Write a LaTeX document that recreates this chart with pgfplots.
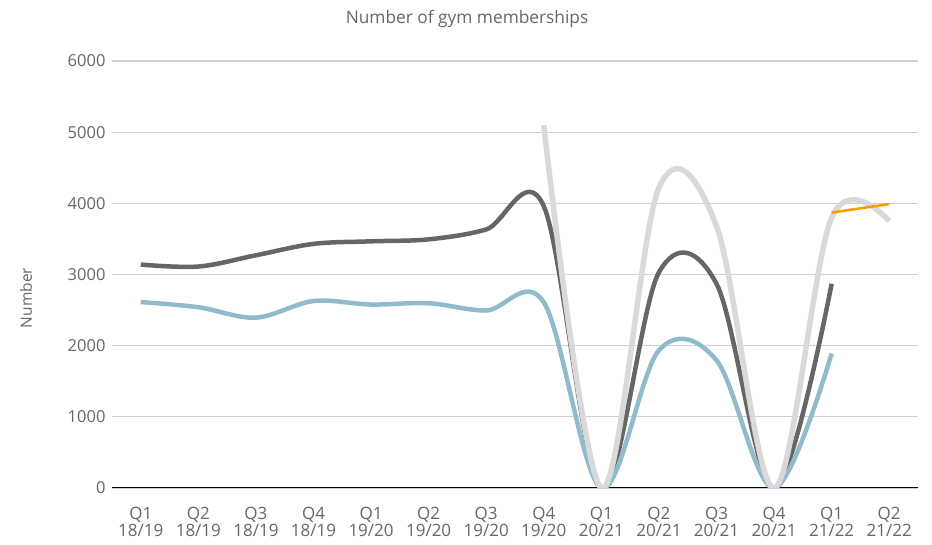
\documentclass[border=0pt]{standalone}
\usepackage{fontspec}
\setmainfont{Open Sans}
\usepackage{pgfplots}
\pgfplotsset{compat=1.18}

\definecolor{seriesdark}{HTML}{666666}
\definecolor{seriesblue}{HTML}{8FBBCC}
\definecolor{serieslight}{HTML}{D9D9D9}
\definecolor{seriesorange}{HTML}{FF9900}
\definecolor{gridgray}{HTML}{D0D0D0}
\definecolor{labelgray}{HTML}{666666}
\definecolor{baseline}{HTML}{333333}

% quarterly values, quarters numbered 0 (Q1 18/19) to 13 (Q2 21/22)
\pgfplotstableread{
x y
0 3140
1 3112
2 3270
3 3430
4 3466
5 3494
6 3633
7 3960
8 0
9 3030
10 2870
11 0
12 2870
}\darkseries

\pgfplotstableread{
x y
0 2613
1 2540
2 2394
3 2627
4 2578
5 2596
6 2494
7 2610
8 0
9 1935
10 1795
11 0
12 1890
}\blueseries

\pgfplotstableread{
x y
7 5100
8 0
9 4220
10 3680
11 0
12 3800
13 3750
}\lightseries

\pgfplotstableread{
x y
12 3870
13 3990
}\orangeseries

\begin{document}
\begin{tikzpicture}
\begin{axis}[
  at={(0,0)}, anchor=south west,
  width=806pt, height=427pt, scale only axis,
  xmin=-0.5, xmax=13.5, ymin=0, ymax=6000,
  xtick={0,...,13},
  xticklabels={{Q1\\[-4pt]18/19},{Q2\\[-4pt]18/19},{Q3\\[-4pt]18/19},{Q4\\[-4pt]18/19},
               {Q1\\[-4pt]19/20},{Q2\\[-4pt]19/20},{Q3\\[-4pt]19/20},{Q4\\[-4pt]19/20},
               {Q1\\[-4pt]20/21},{Q2\\[-4pt]20/21},{Q3\\[-4pt]20/21},{Q4\\[-4pt]20/21},
               {Q1\\[-4pt]21/22},{Q2\\[-4pt]21/22}},
  ytick={0,1000,...,6000},
  /pgf/number format/assume math mode=true,
  /pgf/number format/1000 sep={},
  major tick length=0pt,
  axis line style={draw=none},
  ymajorgrids,
  grid style={color=gridgray, line width=1.2pt},
  xticklabel style={align=center, text=labelgray,
    font=\fontsize{17}{21}\selectfont, yshift=-16pt},
  yticklabel style={text=labelgray, font=\fontsize{16.5}{20}\selectfont, xshift=-3pt},
  title={Number of gym memberships},
  title style={at={(0.4405,1)}, anchor=center, yshift=36pt,
    text=labelgray, font=\fontsize{17.3}{20}\selectfont},
  ylabel={Number},
  ylabel style={at={(axis description cs:-0.1067,0.445)}, anchor=center,
    rotate=0, text=labelgray, font=\fontsize{15.5}{18}\selectfont},
  clip=true,
]
\draw[baseline, line width=1.4pt] (rel axis cs:0,0) -- (rel axis cs:1,0);
\addplot[seriesdark, line width=4.5pt, smooth, tension=0.57, line join=round] table {\darkseries};
\addplot[seriesblue, line width=4.5pt, smooth, tension=0.57, line join=round] table {\blueseries};
\addplot[serieslight, line width=5.5pt, smooth, tension=0.57, line join=round] table {\lightseries};
\addplot[seriesorange, line width=2.5pt] table {\orangeseries};
\end{axis}
\pgfresetboundingbox
\path (-112pt,-57pt) rectangle (820pt,488pt);
\end{tikzpicture}
\end{document}
